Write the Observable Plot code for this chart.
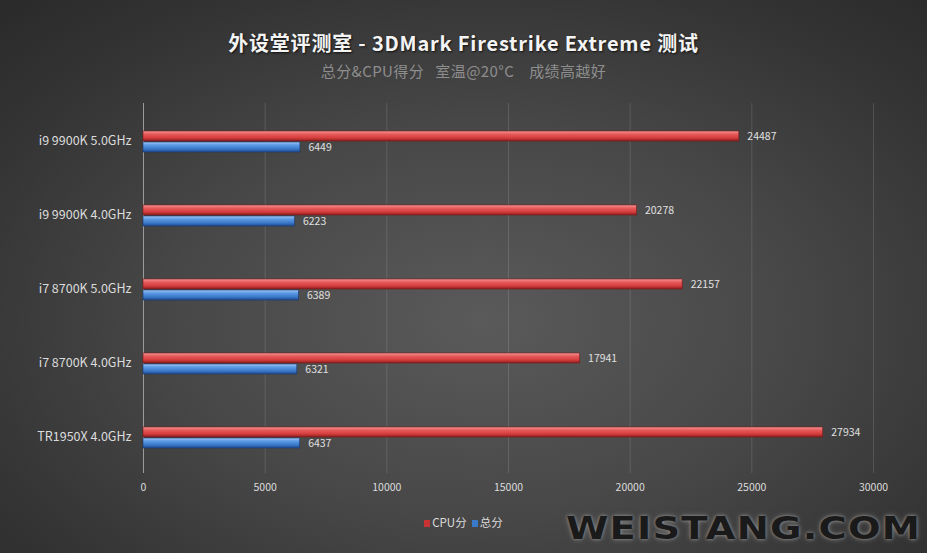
<!DOCTYPE html>
<html><head><meta charset="utf-8">
<script src="https://cdn.jsdelivr.net/npm/d3@7"></script>
<script src="https://cdn.jsdelivr.net/npm/@observablehq/plot@0.6"></script>
<style>
html,body{margin:0;padding:0;}
body{width:927px;height:553px;overflow:hidden;position:relative;
 background:radial-gradient(ellipse 75% 80% at 52% 58%, #5a5a5a 0%, #474747 45%, #333 80%, #2a2a2a 100%);
 font-family:"Noto Sans CJK SC","Noto Sans",sans-serif;}
#title{position:absolute;top:29px;left:0;width:927px;text-align:center;color:#f4f4f4;font-weight:bold;font-size:20px;letter-spacing:0.8px;line-height:28px;text-shadow:1px 1px 2px #111;}
#subtitle{position:absolute;top:61px;left:0;width:927px;text-align:center;color:#8e8e8e;font-size:15px;letter-spacing:0.4px;line-height:20px;}
#chart{position:absolute;top:90px;left:0;}
#legend{position:absolute;top:513px;left:0;width:927px;text-align:center;color:#dcdcdc;font-size:11.5px;line-height:18px;}
#legend span.sw{display:inline-block;width:6px;height:7px;margin-right:2px;}
#wm{position:absolute;left:566px;top:508px;font-family:"DejaVu Sans",sans-serif;font-weight:bold;font-size:32px;letter-spacing:1px;color:#1a1a1a;
 text-shadow:0 0 3px #999,0 0 6px #666;transform:scaleX(1.2);transform-origin:left center;line-height:40px;}
</style></head>
<body>
<div id="title">外设堂评测室 - 3DMark Firestrike Extreme 测试</div>
<div id="subtitle">总分&amp;CPU得分&nbsp;&nbsp;&nbsp;室温@20°C&nbsp;&nbsp;&nbsp;&nbsp;成绩高越好</div>
<div id="chart"></div>
<div id="legend"><span class="sw" style="background:#c83232"></span>CPU分&nbsp;&nbsp;<span class="sw" style="background:#3a78c8"></span>总分</div>
<div id="wm">WEISTANG.COM</div>
<script>
const categories = ["i9 9900K 5.0GHz","i9 9900K 4.0GHz","i7 8700K 5.0GHz","i7 8700K 4.0GHz","TR1950X 4.0GHz"];
const seriesNames = ["CPU分","总分"];
const cpuScores = [24487,20278,22157,17941,27934];
const totalScores = [6449,6223,6389,6321,6437];
const xTicks = [0,5000,10000,15000,20000,25000,30000];

const data = [];
categories.forEach((c,i)=>{
  data.push({cat:c, series:seriesNames[0], value:cpuScores[i]});
  data.push({cat:c, series:seriesNames[1], value:totalScores[i]});
});

const plot = Plot.plot({
  width:927, height:410,
  marginLeft:143, marginRight:54, marginTop:13, marginBottom:27,
  style:{background:"transparent", color:"#d8d8d8", fontFamily:"'Noto Sans CJK SC','Noto Sans',sans-serif"},
  x:{domain:[0,30000], ticks:xTicks, tickFormat:d=>String(d), label:null},
  fy:{domain:categories, padding:0, label:null},
  y:{domain:seriesNames, insetTop:26, insetBottom:24, padding:0.12, axis:null},
  marks:[
    Plot.ruleX(xTicks.slice(1), {stroke:"#ffffff", strokeOpacity:0.13, strokeWidth:1}),
    Plot.ruleX([0], {stroke:"#9a9a9a", strokeWidth:1}),
    Plot.barX(data.filter(d=>d.series===seriesNames[0]), {x:"value", y:"series", fy:"cat", fill:"url(#gradRed)", stroke:"#7a1a1a", strokeWidth:0.6}),
    Plot.barX(data.filter(d=>d.series===seriesNames[1]), {x:"value", y:"series", fy:"cat", fill:"url(#gradBlue)", stroke:"#183a72", strokeWidth:0.6}),
    Plot.text(data, {x:"value", y:"series", fy:"cat", text:d=>String(d.value), textAnchor:"start", dx:8, fill:"#e0e0e0", fontSize:10.5}),
    Plot.axisX({ticks:xTicks, tickSize:0, tickPadding:10, fontSize:10.5, fill:"#dcdcdc", tickFormat:d=>String(d), label:null, facetAnchor:"bottom"}),
    Plot.axisFy({anchor:"left", tickSize:0, tickPadding:12, fontSize:12.5, fill:"#dcdcdc", label:null})
  ]
});

const ns = "http://www.w3.org/2000/svg";
const defs = document.createElementNS(ns,"defs");
function grad(id, stops){
  const g = document.createElementNS(ns,"linearGradient");
  g.setAttribute("id",id); g.setAttribute("x1","0"); g.setAttribute("y1","0"); g.setAttribute("x2","0"); g.setAttribute("y2","1");
  stops.forEach(([o,c])=>{const s=document.createElementNS(ns,"stop"); s.setAttribute("offset",o); s.setAttribute("stop-color",c); g.appendChild(s);});
  defs.appendChild(g);
}
grad("gradRed",[["0","#f29a9a"],["0.3","#e85c5c"],["0.7","#d43c3c"],["1","#8c1e1e"]]);
grad("gradBlue",[["0","#a4c9f4"],["0.3","#5c9be6"],["0.7","#3a78c8"],["1","#1e4a8c"]]);
plot.insertBefore(defs, plot.firstChild);
document.getElementById("chart").appendChild(plot);
</script>
</body></html>
